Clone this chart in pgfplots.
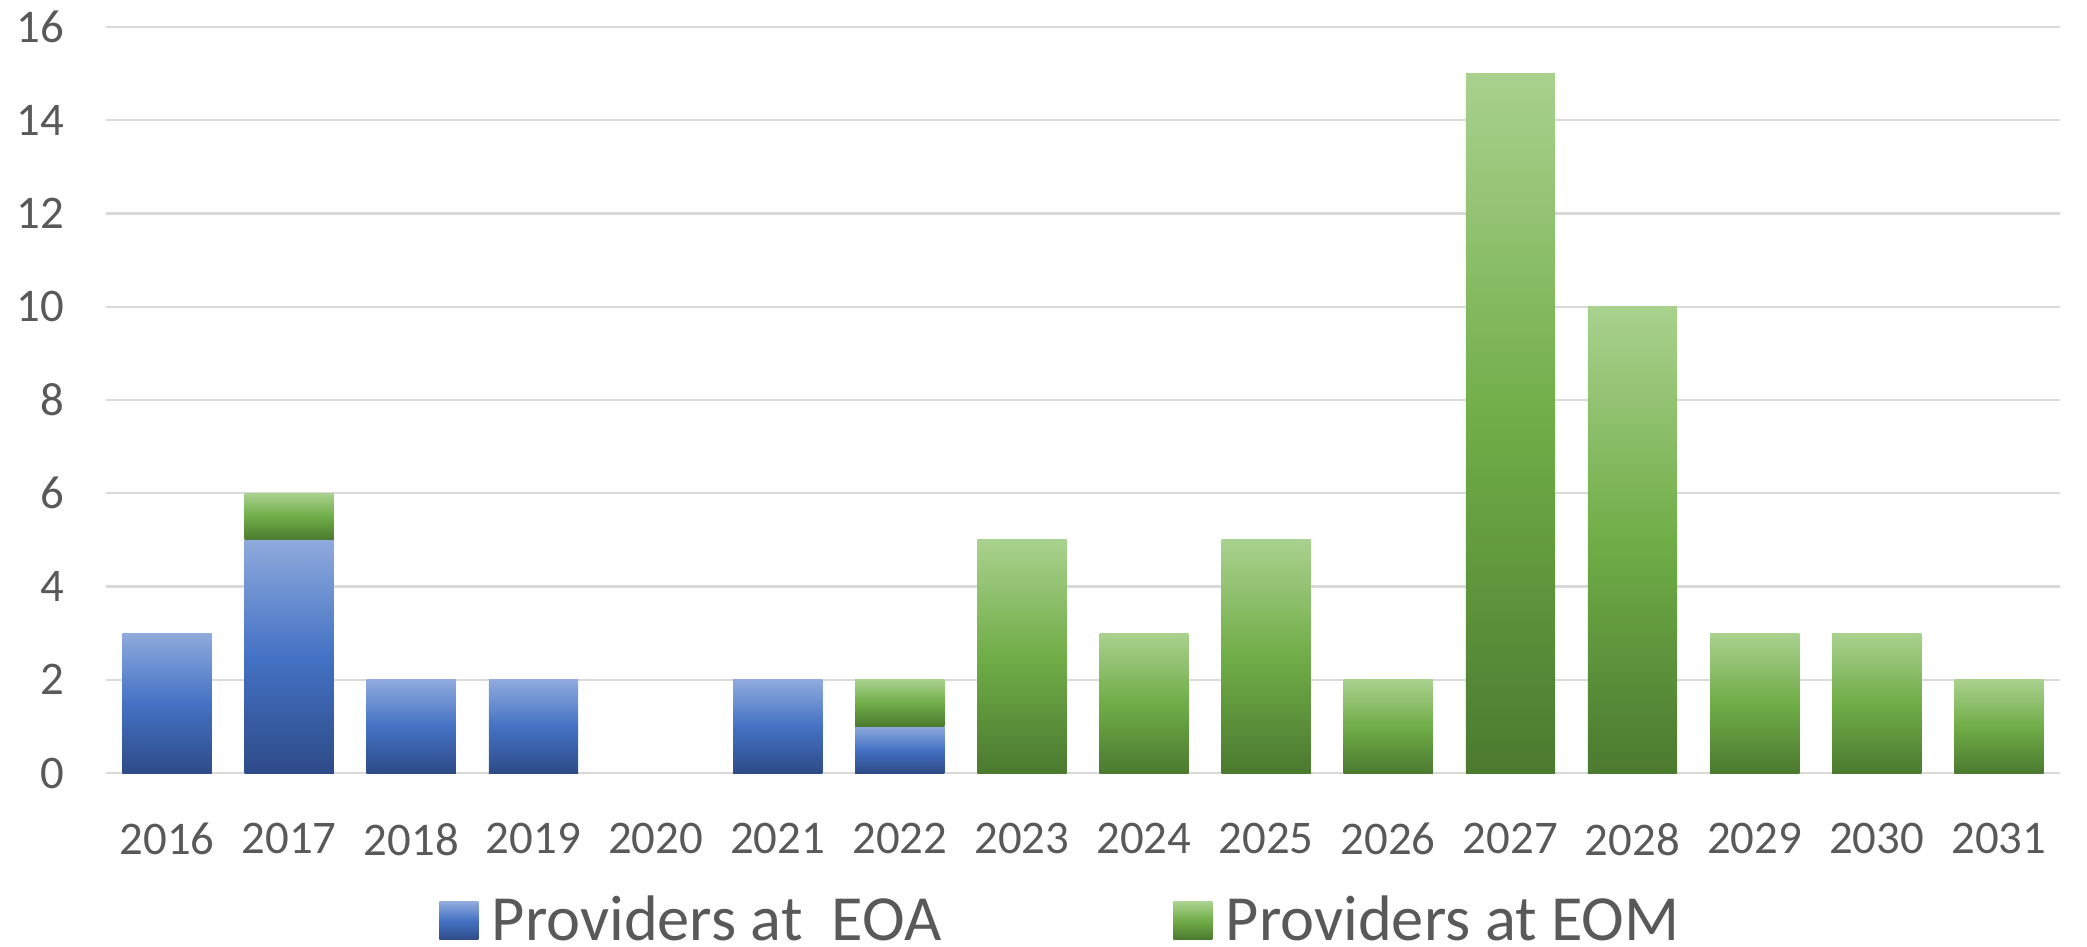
\documentclass[border=0pt]{standalone}
\usepackage{pgfplots}
\pgfplotsset{compat=1.18}
\usepackage{fontspec}
\setmainfont{Carlito}

\definecolor{txtgray}{HTML}{595959}
\definecolor{gridgray}{HTML}{D9D9D9}
\definecolor{blueTop}{HTML}{8FAADC}
\definecolor{blueMid}{HTML}{4472C4}
\definecolor{blueBot}{HTML}{2E4B88}
\definecolor{greenTop}{HTML}{A9D18E}
\definecolor{greenMid}{HTML}{70AD47}
\definecolor{greenBot}{HTML}{4B7A2F}

% each bar is its own plot, so that its gradient spans that bar only
\pgfplotsset{
    frame/.style={
        scale only axis,
        width=488.5bp, height=186.5bp,
        xmin=2015.5, xmax=2031.5,
        ymin=0, ymax=16,
        bar width=22.3bp,
    },
    eoa/.style={draw=none, bar shift=0pt, top color=blueTop, bottom color=blueBot, middle color=blueMid},
    eom/.style={draw=none, bar shift=0pt, top color=greenTop, bottom color=greenBot, middle color=greenMid},
}

\begin{document}
\begin{tikzpicture}
\begin{axis}[
    frame,
    ybar, bar shift=0pt,
    xtick={2016,...,2031},
    ytick={0,2,...,16},
    ymajorgrids,
    grid style={gridgray, line width=0.6bp},
    axis line style={draw=none},
    major tick length=0pt,
    tick label style={font=\fontsize{11.7bp}{13bp}\selectfont, text=txtgray},
    yticklabel style={xshift=-7bp},
    xticklabel style={yshift=-9bp},
    /pgf/number format/1000 sep={},
    /pgf/number format/assume math mode=true,
    legend style={
        draw=none,
        at={(0.49,-0.198)}, anchor=center,
        legend columns=-1,
        font=\fontsize{16.1bp}{19bp}\selectfont,
        text=txtgray,
        /tikz/every even column/.append style={column sep=56bp},
        inner xsep=0pt, inner ysep=0pt,
    },
    legend image code/.code={
        \path[#1, draw=none] (0bp,-4.7bp) rectangle (9.75bp,4.7bp);
        \path (0bp,0bp) -- (11.1bp,0bp);
    },
]
% Providers at EOA
\addplot[eoa] coordinates {(2016,3)};
\addlegendentry{Providers at\ \ EOA}
\addplot[eoa, forget plot] coordinates {(2017,5)};
\addplot[eoa, forget plot] coordinates {(2018,2)};
\addplot[eoa, forget plot] coordinates {(2019,2)};
\addplot[eoa, forget plot] coordinates {(2021,2)};
\addplot[eoa, forget plot] coordinates {(2022,1)};
% Providers at EOM (years without EOA)
\addplot[eom] coordinates {(2023,5)};
\addlegendentry{Providers at EOM}
\addplot[eom, forget plot] coordinates {(2024,3)};
\addplot[eom, forget plot] coordinates {(2025,5)};
\addplot[eom, forget plot] coordinates {(2026,2)};
\addplot[eom, forget plot] coordinates {(2027,15)};
\addplot[eom, forget plot] coordinates {(2028,10)};
\addplot[eom, forget plot] coordinates {(2029,3)};
\addplot[eom, forget plot] coordinates {(2030,3)};
\addplot[eom, forget plot] coordinates {(2031,2)};
\end{axis}

% 2017: EOM stacked on EOA
\begin{axis}[frame, hide axis, ybar stacked]
\addplot[draw=none, fill=none, bar shift=0pt] coordinates {(2017,5)};
\addplot[eom] coordinates {(2017,1)};
\end{axis}

% 2022: EOM stacked on EOA
\begin{axis}[frame, hide axis, ybar stacked]
\addplot[draw=none, fill=none, bar shift=0pt] coordinates {(2022,1)};
\addplot[eom] coordinates {(2022,1)};
\end{axis}

\pgfresetboundingbox
\path ([shift={(-26.5bp,-43.5bp)}]current axis.south west)
  rectangle ([shift={(6.75bp,6.75bp)}]current axis.north east);
\end{tikzpicture}
\end{document}
